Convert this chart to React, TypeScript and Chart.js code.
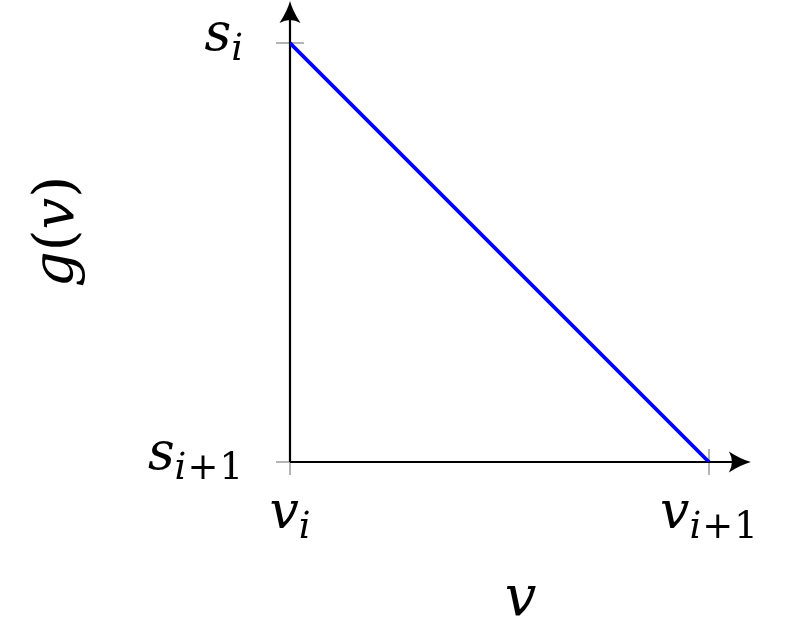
import React, { useEffect, useRef } from "react";
import { Chart, registerables } from "chart.js";

Chart.register(...registerables);

// ---- data ----
const xValues = [0, 1];
const yValues = [1, 0];
const xTickValues = [0, 1];
const xTickBase = ["v", "v"];
const xTickSub = ["i", "i+1"];
const yTickValues = [1, 0];
const yTickBase = ["s", "s"];
const yTickSub = ["i", "i+1"];
const xTitle = "v";
const yTitle = ["g", "(", "v", ")"];
const axisMax = 1.1;

const SERIF = '"DejaVu Serif"';
const MAIN_FONT = `italic 52px ${SERIF}`;
const SUB_IT = `italic 37px ${SERIF}`;
const SUB_UP = `37px ${SERIF}`;
const TITLE_IT = `italic 56px ${SERIF}`;
const TITLE_UP = `56px ${SERIF}`;
const SUB_GAP = 1;

function subPieces(ctx: CanvasRenderingContext2D, sub: string) {
  return sub.split("").map((ch) => {
    const font = /[a-z]/.test(ch) ? SUB_IT : SUB_UP;
    ctx.font = font;
    return { ch, font, w: ctx.measureText(ch).width };
  });
}

function measureLabel(ctx: CanvasRenderingContext2D, base: string, sub: string) {
  ctx.font = MAIN_FONT;
  const bw = ctx.measureText(base).width;
  const pieces = subPieces(ctx, sub);
  const sw = pieces.reduce((a, p) => a + p.w, 0) + SUB_GAP * (pieces.length - 1);
  return { bw, sw, pieces, gap: 0, total: bw + sw };
}

function drawLabel(
  ctx: CanvasRenderingContext2D,
  base: string,
  sub: string,
  left: number,
  baseline: number
) {
  const m = measureLabel(ctx, base, sub);
  ctx.textAlign = "left";
  ctx.textBaseline = "alphabetic";
  ctx.fillStyle = "#000";
  ctx.font = MAIN_FONT;
  ctx.fillText(base, left, baseline);
  let cx = left + m.bw + m.gap;
  m.pieces.forEach((p) => {
    ctx.font = p.font;
    ctx.fillText(p.ch, cx, baseline + 10);
    cx += p.w + SUB_GAP;
  });
}

function arrow(ctx: CanvasRenderingContext2D, tx: number, ty: number, dir: "right" | "up") {
  const L = 22;
  const W = 10.5;
  const notch = 16;
  ctx.save();
  ctx.translate(tx, ty);
  if (dir === "up") ctx.rotate(-Math.PI / 2);
  ctx.beginPath();
  ctx.moveTo(0, 0);
  ctx.quadraticCurveTo(-L * 0.45, -W * 0.25, -L, -W);
  ctx.quadraticCurveTo(-notch, 0, -L, W);
  ctx.quadraticCurveTo(-L * 0.45, W * 0.25, 0, 0);
  ctx.closePath();
  ctx.fillStyle = "#000";
  ctx.fill();
  ctx.restore();
}

const axesPlugin = {
  id: "axesPlugin",
  beforeDatasetsDraw(chart: any) {
    const ctx: CanvasRenderingContext2D = chart.ctx;
    const xs = chart.scales.x;
    const ys = chart.scales.y;
    const x0 = xs.getPixelForValue(0);
    const y0 = ys.getPixelForValue(0);
    const xEnd = xs.getPixelForValue(axisMax);
    const yEnd = ys.getPixelForValue(axisMax);
    ctx.save();
    ctx.strokeStyle = "#8c8c8c";
    ctx.lineWidth = 1.3;
    xTickValues.forEach((v) => {
      const px = xs.getPixelForValue(v);
      ctx.beginPath();
      ctx.moveTo(px, y0 - 13);
      ctx.lineTo(px, y0 + 13);
      ctx.stroke();
    });
    yTickValues.forEach((v) => {
      const py = ys.getPixelForValue(v);
      ctx.beginPath();
      ctx.moveTo(x0 - 14, py);
      ctx.lineTo(x0 + 14, py);
      ctx.stroke();
    });
    ctx.strokeStyle = "#000";
    ctx.lineWidth = 2.2;
    ctx.beginPath();
    ctx.moveTo(x0, y0);
    ctx.lineTo(xEnd - 12, y0);
    ctx.moveTo(x0, y0);
    ctx.lineTo(x0, yEnd + 12);
    ctx.stroke();
    arrow(ctx, xEnd, y0, "right");
    arrow(ctx, x0, yEnd, "up");
    ctx.restore();
  },
  afterDraw(chart: any) {
    const ctx: CanvasRenderingContext2D = chart.ctx;
    const xs = chart.scales.x;
    const ys = chart.scales.y;
    const x0 = xs.getPixelForValue(0);
    const y0 = ys.getPixelForValue(0);
    const xEnd = xs.getPixelForValue(axisMax);
    const yEnd = ys.getPixelForValue(axisMax);
    ctx.save();
    xTickValues.forEach((v, i) => {
      const px = xs.getPixelForValue(v);
      const m = measureLabel(ctx, xTickBase[i], xTickSub[i]);
      drawLabel(ctx, xTickBase[i], xTickSub[i], px - m.total / 2, y0 + 66);
    });
    yTickValues.forEach((v, i) => {
      const py = ys.getPixelForValue(v);
      const m = measureLabel(ctx, yTickBase[i], yTickSub[i]);
      drawLabel(ctx, yTickBase[i], yTickSub[i], x0 - 47 - m.total, py + 7);
    });
    ctx.fillStyle = "#000";
    ctx.font = TITLE_IT;
    ctx.textAlign = "center";
    ctx.textBaseline = "alphabetic";
    ctx.fillText(xTitle, (x0 + xEnd) / 2, 615);
    const fonts = [TITLE_IT, TITLE_UP, TITLE_IT, TITLE_UP];
    let total = 0;
    const widths = yTitle.map((s, i) => {
      ctx.font = fonts[i];
      const w = ctx.measureText(s).width;
      total += w;
      return w;
    });
    ctx.translate(73, (y0 + yEnd) / 2);
    ctx.rotate(-Math.PI / 2);
    ctx.textAlign = "left";
    let cx = -total / 2;
    yTitle.forEach((s, i) => {
      ctx.font = fonts[i];
      ctx.fillText(s, cx, 0);
      cx += widths[i];
    });
    ctx.restore();
  },
};

export default function App() {
  const canvasRef = useRef<HTMLCanvasElement | null>(null);

  useEffect(() => {
    if (!canvasRef.current) return;
    const unit = 419;
    const left = 290;
    const bottomY = 462;
    const chart = new Chart(canvasRef.current, {
      type: "line",
      data: {
        datasets: [
          {
            data: xValues.map((x, i) => ({ x, y: yValues[i] })),
            borderColor: "#0000ff",
            borderWidth: 3.8,
            pointRadius: 0,
            fill: false,
            tension: 0,
          },
        ],
      },
      options: {
        responsive: false,
        animation: false,
        devicePixelRatio: 1,
        layout: {
          padding: {
            left: left,
            right: 792 - (left + unit * axisMax),
            top: bottomY - unit * axisMax,
            bottom: 637 - bottomY,
          },
        },
        plugins: {
          legend: { display: false },
          tooltip: { enabled: false },
        },
        scales: {
          x: { type: "linear", min: 0, max: axisMax, display: false },
          y: { type: "linear", min: 0, max: axisMax, display: false },
        },
      },
      plugins: [axesPlugin],
    });
    return () => chart.destroy();
  }, []);

  return (
    <div style={{ position: "absolute", left: 0, top: 0, width: 792, height: 637, background: "#fff" }}>
      <canvas ref={canvasRef} width={792} height={637} style={{ display: "block" }} />
    </div>
  );
}
